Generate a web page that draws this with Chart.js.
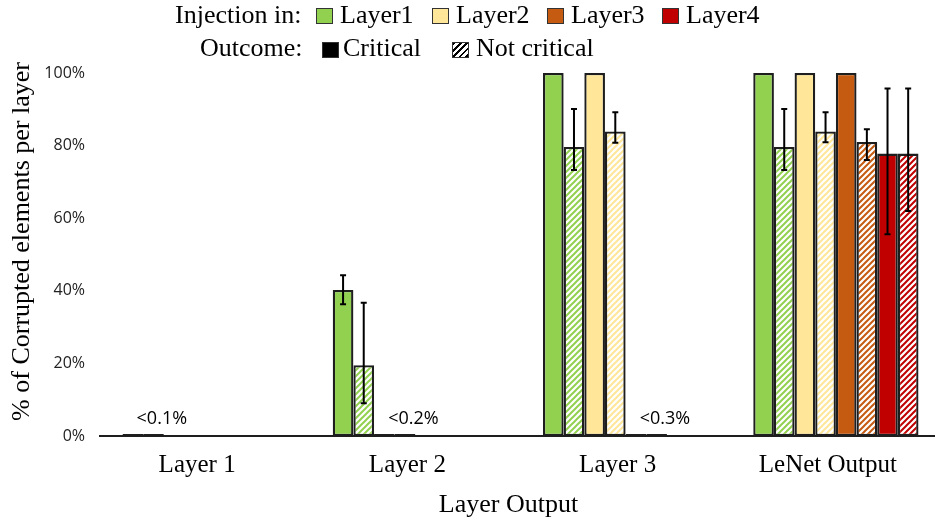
<!DOCTYPE html>
<html>
<head>
<meta charset="utf-8">
<script src="https://cdn.jsdelivr.net/npm/chart.js@4.4.1/dist/chart.umd.min.js"></script>
<style>
  html, body { margin: 0; padding: 0; width: 935px; height: 525px; overflow: hidden; background: #fff; }
  #wrap { position: relative; width: 941px; height: 525px; }
  #c { position: absolute; left: 0; top: 0; }
  .key { position: absolute; font-family: "Liberation Serif", "Times New Roman", serif; font-size: 26px; line-height: 26px; color: #000; white-space: nowrap; }
  .sw { position: absolute; width: 17px; height: 16px; box-sizing: border-box; border: 1.5px solid #333; }
</style>
</head>
<body>
<div id="wrap">
  <canvas id="c" width="941" height="525"></canvas>
  <div id="legend"></div>
</div>
<script>
// Layer whose output is observed
const categories = ['Layer 1', 'Layer 2', 'Layer 3', 'LeNet Output'];

// Layer where the fault was injected, with its colour
const injectionLayers = ['Layer1', 'Layer2', 'Layer3', 'Layer4'];
const layerColors = ['#92D050', '#FFE699', '#C55A11', '#C00000'];

// % of corrupted elements (null = layer not affected by that injection)
const l1Critical    = [0.09, 40.2, 100, 100];
const l1NotCritical = [0.06, 19.5, 79.6, 79.6];
const l2Critical    = [null, 0.18, 100, 100];
const l2NotCritical = [null, 0.12, 83.9, 83.9];
const l3Critical    = [null, null, 0.28, 100];
const l3NotCritical = [null, null, 0.2, 81.0];
const l4Critical    = [null, null, null, 77.8];
const l4NotCritical = [null, null, null, 77.8];

// Error ranges [low, high] in %
const l1CriticalErr    = [null, [36.3, 44.3], null, null];
const l1NotCriticalErr = [null, [9.0, 36.7], [73.3, 90.1], [73.3, 90.1]];
const l2CriticalErr    = [null, null, null, null];
const l2NotCriticalErr = [null, null, [80.8, 89.2], [80.9, 89.2]];
const l3CriticalErr    = [null, null, null, null];
const l3NotCriticalErr = [null, null, null, [76.0, 84.5]];
const l4CriticalErr    = [null, null, null, [55.6, 95.7]];
const l4NotCriticalErr = [null, null, null, [62.0, 95.7]];

// Notes for the near-zero self-injection bars, per observed layer
const smallValueNotes = ['<0.1%', '<0.2%', '<0.3%', null];

const outcomeLabels = ['Critical', 'Not critical'];
const xTitle = 'Layer Output';
const yTitle = '% of Corrupted elements per layer';

const canvas = document.getElementById('c');
const mainCtx = canvas.getContext('2d');

function hatch(color) {
  const s = 6;
  const tile = document.createElement('canvas');
  tile.width = s; tile.height = s;
  const g = tile.getContext('2d');
  g.fillStyle = '#fff';
  g.fillRect(0, 0, s, s);
  g.strokeStyle = color;
  g.lineWidth = 2;
  g.beginPath();
  g.moveTo(0, s); g.lineTo(s, 0);
  g.moveTo(-s / 2, s / 2); g.lineTo(s / 2, -s / 2);
  g.moveTo(s / 2, s * 1.5); g.lineTo(s * 1.5, s / 2);
  g.stroke();
  return mainCtx.createPattern(tile, 'repeat');
}

const seriesValues = [l1Critical, l1NotCritical, l2Critical, l2NotCritical, l3Critical, l3NotCritical, l4Critical, l4NotCritical];
const seriesErrors = [l1CriticalErr, l1NotCriticalErr, l2CriticalErr, l2NotCriticalErr, l3CriticalErr, l3NotCriticalErr, l4CriticalErr, l4NotCriticalErr];

const datasets = seriesValues.map((vals, i) => {
  const layer = Math.floor(i / 2);
  const critical = i % 2 === 0;
  return {
    label: injectionLayers[layer] + ' ' + outcomeLabels[i % 2],
    data: vals,
    errors: seriesErrors[i],
    backgroundColor: critical ? layerColors[layer] : hatch(layerColors[layer]),
    borderColor: '#1e1e1e',
    borderWidth: 2.3,
    borderSkipped: false,
    minBarLength: 2,
    barPercentage: 1,
    categoryPercentage: 0.786
  };
});

// Vertical error bars with small caps
const errorBars = {
  id: 'errorBars',
  afterDatasetsDraw(chart) {
    const ctx = chart.ctx;
    const y = chart.scales.y;
    ctx.save();
    ctx.strokeStyle = '#000';
    ctx.lineWidth = 2;
    chart.data.datasets.forEach((ds, i) => {
      const meta = chart.getDatasetMeta(i);
      (ds.errors || []).forEach((e, j) => {
        if (!e || !meta.data[j]) return;
        const x = meta.data[j].x;
        const yLo = y.getPixelForValue(e[0]);
        const yHi = y.getPixelForValue(e[1]);
        ctx.beginPath();
        ctx.moveTo(x, yLo); ctx.lineTo(x, yHi);
        ctx.moveTo(x - 3, yLo); ctx.lineTo(x + 3, yLo);
        ctx.moveTo(x - 3, yHi); ctx.lineTo(x + 3, yHi);
        ctx.stroke();
      });
    });
    ctx.restore();
  }
};

// "<x%" notes next to the tiny bars
const smallNotes = {
  id: 'smallNotes',
  afterDatasetsDraw(chart) {
    const ctx = chart.ctx;
    const base = chart.scales.y.getPixelForValue(0);
    ctx.save();
    ctx.fillStyle = '#000';
    ctx.font = '18px "Open Sans", sans-serif';
    ctx.textAlign = 'center';
    ctx.textBaseline = 'alphabetic';
    smallValueNotes.forEach((txt, j) => {
      if (!txt) return;
      const bar = chart.getDatasetMeta(2 * j + 1).data[j];
      ctx.fillText(txt, bar.x + bar.width / 2 - 2, base - 12);
    });
    ctx.restore();
  }
};

// Axis titles, placed a little off the plot-area centre
const axisTitles = {
  id: 'axisTitles',
  afterDraw(chart) {
    const ctx = chart.ctx;
    const a = chart.chartArea;
    ctx.save();
    ctx.fillStyle = '#000';
    ctx.font = '26px "Liberation Serif", serif';
    ctx.textAlign = 'center';
    ctx.textBaseline = 'middle';
    ctx.fillText(xTitle, (a.left + a.right) / 2 - 12, 505);
    ctx.translate(22, (a.top + a.bottom) / 2 - 13);
    ctx.rotate(-Math.PI / 2);
    ctx.fillText(yTitle, 0, 0);
    ctx.restore();
  }
};

const serif = 'Liberation Serif';

new Chart(canvas, {
  type: 'bar',
  data: { labels: categories, datasets },
  plugins: [errorBars, smallNotes, axisTitles],
  options: {
    responsive: false,
    animation: false,
    devicePixelRatio: 1,
    layout: { padding: { top: 73, right: 0, bottom: 0, left: 0 } },
    plugins: { legend: { display: false }, tooltip: { enabled: false } },
    scales: {
      x: {
        grid: { display: false, drawTicks: false },
        border: { display: true, color: '#1e1e1e', width: 2 },
        ticks: { color: '#000', font: { family: serif, size: 25 }, padding: 14, labelOffset: -8 },
        afterFit(s) { s.height = 89; }
      },
      y: {
        min: 0,
        max: 100,
        grid: { display: false, drawTicks: false },
        border: { display: false },
        ticks: { stepSize: 20, color: '#222', font: { family: 'Open Sans', size: 16 }, padding: 15, callback: v => v + '%' },
        afterFit(s) { s.width = 100; }
      }
    }
  }
});

// Two-row key: injection layer colours, then outcome fill style
const legend = document.getElementById('legend');
function addText(txt, left, top) {
  const d = document.createElement('div');
  d.className = 'key';
  d.textContent = txt;
  d.style.left = left + 'px';
  d.style.top = top + 'px';
  legend.appendChild(d);
}
function addSwatch(left, top, bg) {
  const d = document.createElement('div');
  d.className = 'sw';
  d.style.left = left + 'px';
  d.style.top = top + 'px';
  d.style.background = bg;
  legend.appendChild(d);
}
addText('Injection in:', 175, 2);
const swatchX = [316, 432, 547, 662];
injectionLayers.forEach((name, i) => {
  addSwatch(swatchX[i], 8, layerColors[i]);
  addText(name, swatchX[i] + 24, 2);
});
addText('Outcome:', 200, 35);
addSwatch(322, 42, '#000');
addText(outcomeLabels[0], 343, 35);
addSwatch(452, 42, 'repeating-linear-gradient(135deg, #000 0 2px, #fff 2px 4.5px)');
addText(outcomeLabels[1], 476, 35);
</script>
</body>
</html>
